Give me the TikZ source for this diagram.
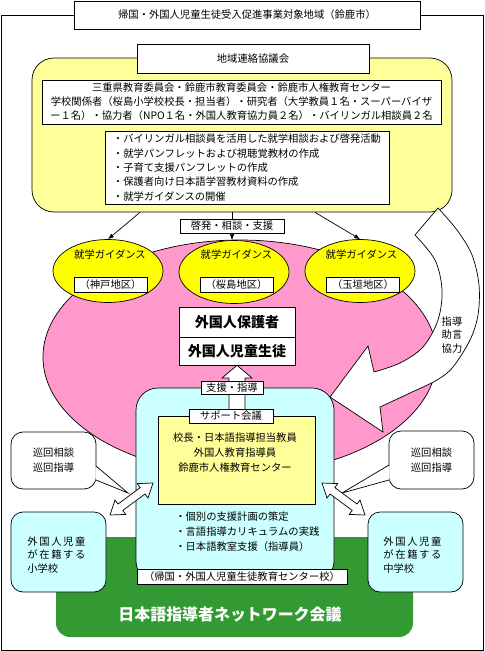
\documentclass[tikz,border=0pt]{standalone}
\usepackage{fontspec}
\setmainfont{Noto Sans CJK JP}
\newfontfamily\jpwide[LetterSpace=16]{Noto Sans CJK JP}
\usetikzlibrary{arrows.meta, shapes.geometric, calc}

\newlength{\pxl}
\setlength{\pxl}{0.3mm}

\definecolor{paleyellow}{HTML}{FFFF99}
\definecolor{guideyellow}{HTML}{FFFF00}
\definecolor{pinkarea}{HTML}{FF99CC}
\definecolor{paleblue}{HTML}{CCFFFF}
\definecolor{netgreen}{HTML}{339933}

\begin{document}
\begin{tikzpicture}[
        x=0.3mm, y=-0.3mm,
        line width=0.6pt,
        every node/.style={font=\fontsize{8.8}{12}\selectfont},
        labelbox/.style={rectangle, draw, fill=white, inner sep=0pt},
        roundbox/.style={rectangle, draw, rounded corners=22\pxl, inner sep=0pt},
        guide/.style={ellipse, draw, fill=guideyellow, minimum width=110\pxl, minimum height=63\pxl, inner sep=0pt},
        conn/.style={-{Latex[length=5pt, width=4pt]}},
        blockarrow/.style={draw, fill=white, line join=miter}
    ]

    \useasboundingbox (0,0) rectangle (484,651);

    % Outer frame and title
    \draw (1,15) rectangle (483,650);
    \node[labelbox, minimum width=346\pxl, minimum height=28\pxl] (title) at (247,15) {帰国・外国人児童生徒受入促進事業対象地域（鈴鹿市）};

    % Regional council
    \node[roundbox, fill=paleyellow, minimum width=420\pxl, minimum height=154\pxl] (council) at (242,135) {};
    \node[labelbox, minimum width=232\pxl, minimum height=29\pxl] (council_t) at (253,58.5) {地域連絡協議会};
    \node[labelbox, minimum width=399\pxl, minimum height=44\pxl, align=center, font=\fontsize{8.8}{11.9}\selectfont] (members) at (241.5,102) {三重県教育委員会・鈴鹿市教育委員会・鈴鹿市人権教育センター\\学校関係者（桜島小学校校長・担当者）・研究者（大学教員１名・スーパーバイザ\\ー１名）・協力者（NPO１名・外国人教育協力員２名）・バイリンガル相談員２名};
    \node[labelbox, minimum width=284\pxl, minimum height=73\pxl, align=left, font=\fontsize{8.8}{12.2}\selectfont] (tasks) at (247,167.5) {・バイリンガル相談員を活用した就学相談および啓発活動\\・就学パンフレットおよび視聴覚教材の作成\\・子育て支援パンフレットの作成\\・保護者向け日本語学習教材資料の作成\\・就学ガイダンスの開催};

    % Foreign families
    \node[ellipse, draw, fill=pinkarea, minimum width=394\pxl, minimum height=234\pxl] (families) at (240,357) {};

    % Advice arrow round the right side
    \draw[fill=white, line join=miter] plot[smooth, tension=0.55] coordinates {(438,208) (457,230) (472,255) (479,285) (478,315) (470,340) (453,367) (437,380) (410,393) (380,407)}
        -- (383,432) -- (330,397) -- (368,346) -- (374,372)
        -- plot[smooth, tension=0.55] coordinates {(374,372) (400,363) (423,347) (438,320) (442,290) (435,260) (415,235)} -- cycle;
    \node[align=center, inner sep=0pt, font=\fontsize{8.8}{11.5}\selectfont] (advice) at (452,335) {指導\\助言\\協力};

    % Guidance sessions
    \node[guide] (guideA) at (108,271) {};
    \node[guide] (guideB) at (234,272) {};
    \node[guide] (guideC) at (360,271) {};
    \node (guideA_t) at (110,255) {就学ガイダンス};
    \node (guideB_t) at (236.5,255) {就学ガイダンス};
    \node (guideC_t) at (361.5,255) {就学ガイダンス};
    \node[labelbox, minimum width=73\pxl, minimum height=15\pxl] (guideA_d) at (110.5,284.5) {（神戸地区）};
    \node[labelbox, minimum width=73\pxl, minimum height=15\pxl] (guideB_d) at (236.5,284.5) {（桜島地区）};
    \node[labelbox, minimum width=73\pxl, minimum height=15\pxl] (guideC_d) at (363,284.5) {（玉垣地区）};

    \node[labelbox, minimum width=116\pxl, minimum height=30\pxl, font=\fontsize{12}{14}\selectfont\bfseries] (parents) at (237,322) {外国人保護者};
    \node[labelbox, minimum width=116\pxl, minimum height=28\pxl, font=\fontsize{12}{14}\selectfont\bfseries] (pupils) at (237,351) {外国人児童生徒};

    % Council to guidance sessions
    \node[labelbox, minimum width=104\pxl, minimum height=14\pxl] (outreach) at (232,226) {啓発・相談・支援};
    \draw[conn] ($(council.south)+(-102,0)$) -- (guideA.north);
    \draw (council.south -| outreach.north) -- (outreach.north);
    \draw[conn] (outreach.south) -- (outreach.south |- guideB.north);
    \draw[conn] ($(council.south)+(73,0)$) -- (guideC.north);

    % Network meeting
    \node[rectangle, rounded corners=14\pxl, fill=netgreen, minimum width=357\pxl, minimum height=100\pxl] (network) at (234.5,587) {};
    \node[text=white, font=\fontsize{13.6}{16}\selectfont\bfseries] (network_t) at (230,614) {日本語指導者ネットワーク会議};

    % Centre school
    \node[roundbox, fill=paleblue, minimum width=198\pxl, minimum height=195\pxl] (centre) at (235,485.5) {};
    \node[rectangle, draw, fill=paleyellow, minimum width=157\pxl, minimum height=88\pxl] (meeting) at (236.5,460) {};
    \node[align=center, inner sep=0pt, font=\fontsize{8.8}{12.8}\selectfont] (meeting_m) at (235,453) {校長・日本語指導担当教員\\外国人教育指導員\\鈴鹿市人権教育センター};
    \draw[blockarrow] (229,409) -- (229,378) -- (222,378) -- (pupils.south) -- (252,378) -- (245,378) -- (245,409);
    \node[labelbox, minimum width=62\pxl, minimum height=13\pxl] (support) at (232,387.5) {支援・指導};
    \node[labelbox, minimum width=84\pxl, minimum height=14\pxl] (meeting_t) at (231,416) {サポート会議};
    \node[anchor=west, align=left, inner sep=0pt, font=\fontsize{8.8}{12.8}\selectfont] (plans) at (175,532) {・個別の支援計画の策定\\・言語指導カリキュラムの実践\\・日本語教室支援（指導員）};
    \node[labelbox, minimum width=210\pxl, minimum height=15\pxl] (centre_t) at (242,576.5) {（帰国・外国人児童生徒教育センター校）};

    % Schools
    \node[roundbox, rounded corners=12\pxl, fill=paleblue, minimum width=95\pxl, minimum height=80\pxl] (primary) at (58.5,552) {};
    \node[roundbox, rounded corners=12\pxl, fill=paleblue, minimum width=95\pxl, minimum height=80\pxl] (junior) at (415.5,552) {};
    \node[anchor=west, align=left, inner sep=0pt, font=\fontsize{8.8}{11.3}\selectfont] (primary_t) at (27,555) {{\jpwide 外国人児童}\\{\jpwide が在籍する}\\小学校};
    \node[anchor=west, align=left, inner sep=0pt, font=\fontsize{8.8}{11.3}\selectfont] (junior_t) at (383,555) {{\jpwide 外国人児童}\\{\jpwide が在籍する}\\中学校};

    % Visiting advice
    \node[roundbox, rounded corners=12\pxl, fill=white, minimum width=85\pxl, minimum height=57\pxl, align=center, font=\fontsize{8.8}{12.8}\selectfont] (visitL) at (53.5,460.5) {巡回相談\\巡回指導};
    \fill[white] (95.3,466.5) -- (128,493) -- (95.3,479.5) -- cycle;
    \draw (96,466) -- (128,493) -- (96,480);
    \node[roundbox, rounded corners=12\pxl, fill=white, minimum width=85\pxl, minimum height=58\pxl, align=center, font=\fontsize{8.8}{12.8}\selectfont] (visitR) at (431.5,460) {巡回相談\\巡回指導};
    \fill[white] (389.7,465.5) -- (342,493) -- (389.7,479.5) -- cycle;
    \draw (389,465) -- (342,493) -- (389,480);

    % Two-way arrows to the schools
    \draw[blockarrow] (153,483) -- (148,498) -- (145,494) -- (122.8,510.4) -- (125.8,514.4) -- (110,515) -- (115,500) -- (118,504) -- (140.2,487.6) -- (137.2,483.6) -- cycle;
    \draw[blockarrow] (322,483) -- (327,498) -- (330,494) -- (352.2,510.4) -- (349.2,514.4) -- (365,515) -- (360,500) -- (357,504) -- (334.8,487.6) -- (337.8,483.6) -- cycle;

\end{tikzpicture}
\end{document}
